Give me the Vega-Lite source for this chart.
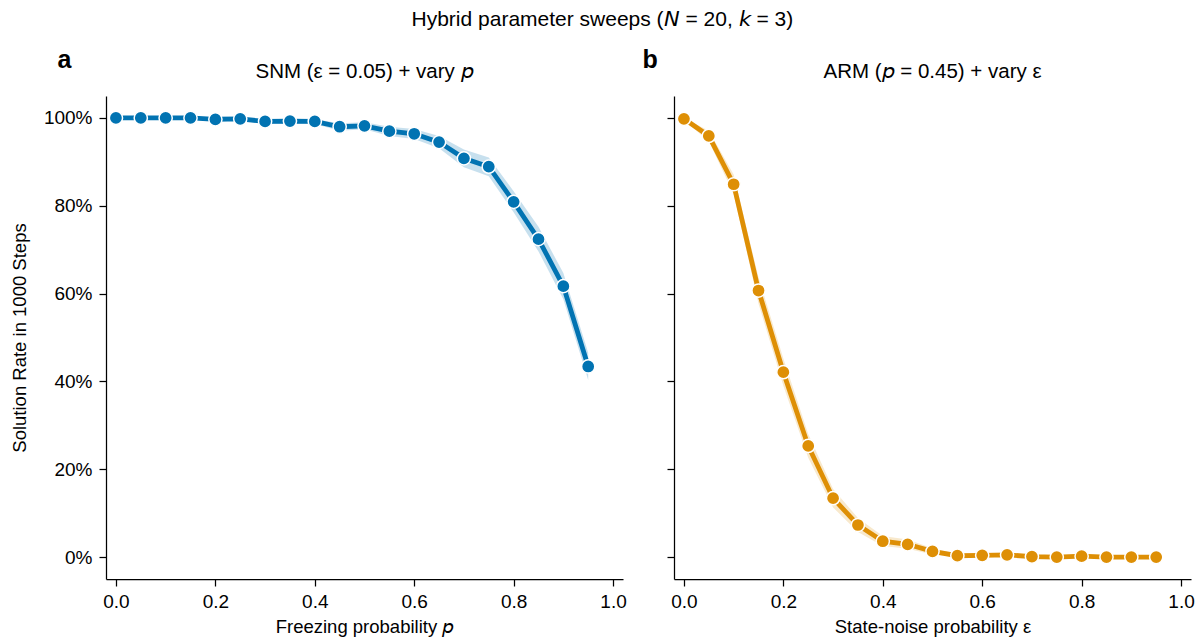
{
  "$schema": "https://vega.github.io/schema/vega-lite/v6.json",
  "padding": {"left": 10, "top": 8, "right": 10, "bottom": 2},
  "datasets": {
    "snm": [
      {"p": 0.00, "rate": 1.000, "lo": 1.000, "hi": 1.000},
      {"p": 0.05, "rate": 1.000, "lo": 0.999, "hi": 1.000},
      {"p": 0.10, "rate": 1.000, "lo": 0.999, "hi": 1.000},
      {"p": 0.15, "rate": 1.000, "lo": 0.999, "hi": 1.000},
      {"p": 0.20, "rate": 0.997, "lo": 0.993, "hi": 1.000},
      {"p": 0.25, "rate": 0.998, "lo": 0.995, "hi": 1.000},
      {"p": 0.30, "rate": 0.992, "lo": 0.986, "hi": 0.997},
      {"p": 0.35, "rate": 0.993, "lo": 0.987, "hi": 0.998},
      {"p": 0.40, "rate": 0.992, "lo": 0.986, "hi": 0.997},
      {"p": 0.45, "rate": 0.980, "lo": 0.971, "hi": 0.988},
      {"p": 0.50, "rate": 0.982, "lo": 0.974, "hi": 0.990},
      {"p": 0.55, "rate": 0.970, "lo": 0.959, "hi": 0.980},
      {"p": 0.60, "rate": 0.964, "lo": 0.952, "hi": 0.975},
      {"p": 0.65, "rate": 0.945, "lo": 0.931, "hi": 0.959},
      {"p": 0.70, "rate": 0.908, "lo": 0.888, "hi": 0.928},
      {"p": 0.75, "rate": 0.889, "lo": 0.867, "hi": 0.910},
      {"p": 0.80, "rate": 0.809, "lo": 0.785, "hi": 0.833},
      {"p": 0.85, "rate": 0.724, "lo": 0.696, "hi": 0.752},
      {"p": 0.90, "rate": 0.617, "lo": 0.587, "hi": 0.647},
      {"p": 0.95, "rate": 0.434, "lo": 0.403, "hi": 0.465}
    ],
    "arm": [
      {"eps": 0.00, "rate": 0.998, "lo": 0.995, "hi": 1.000},
      {"eps": 0.05, "rate": 0.959, "lo": 0.947, "hi": 0.971},
      {"eps": 0.10, "rate": 0.849, "lo": 0.827, "hi": 0.871},
      {"eps": 0.15, "rate": 0.607, "lo": 0.577, "hi": 0.637},
      {"eps": 0.20, "rate": 0.421, "lo": 0.390, "hi": 0.452},
      {"eps": 0.25, "rate": 0.253, "lo": 0.226, "hi": 0.280},
      {"eps": 0.30, "rate": 0.134, "lo": 0.113, "hi": 0.155},
      {"eps": 0.35, "rate": 0.073, "lo": 0.057, "hi": 0.089},
      {"eps": 0.40, "rate": 0.036, "lo": 0.025, "hi": 0.048},
      {"eps": 0.45, "rate": 0.029, "lo": 0.019, "hi": 0.040},
      {"eps": 0.50, "rate": 0.013, "lo": 0.006, "hi": 0.020},
      {"eps": 0.55, "rate": 0.003, "lo": 0.000, "hi": 0.007},
      {"eps": 0.60, "rate": 0.004, "lo": 0.000, "hi": 0.008},
      {"eps": 0.65, "rate": 0.005, "lo": 0.001, "hi": 0.009},
      {"eps": 0.70, "rate": 0.001, "lo": 0.000, "hi": 0.003},
      {"eps": 0.75, "rate": 0.000, "lo": 0.000, "hi": 0.000},
      {"eps": 0.80, "rate": 0.002, "lo": 0.000, "hi": 0.005},
      {"eps": 0.85, "rate": 0.000, "lo": 0.000, "hi": 0.000},
      {"eps": 0.90, "rate": 0.000, "lo": 0.000, "hi": 0.000},
      {"eps": 0.95, "rate": 0.000, "lo": 0.000, "hi": 0.000}
    ]
  },
  "title": {
    "text": "Hybrid parameter sweeps (𝘕 = 20, 𝘬 = 3)",
    "fontSize": 21,
    "fontWeight": "normal",
    "anchor": "middle",
    "offset": 18
  },
  "spacing": 15,
  "hconcat": [
    {
      "title": {"text": "a", "anchor": "start", "frame": "bounds", "fontSize": 25, "fontWeight": "bold", "dx": 47, "offset": -11},
      "hconcat": [
        {
          "title": {"text": "SNM (ε = 0.05) + vary 𝘱", "fontSize": 20.5, "fontWeight": "normal", "offset": 14},
          "width": 517,
          "height": 483,
          "data": {"name": "snm"},
          "layer": [
            {
              "mark": {"type": "area", "color": "#0173B2", "opacity": 0.22},
              "encoding": {
                "x": {
                  "field": "p", "type": "quantitative",
                  "scale": {"domain": [-0.02, 1.02], "nice": false, "zero": false},
                  "axis": {"values": [0, 0.2, 0.4, 0.6, 0.8, 1.0], "format": ".1f", "title": "Freezing probability 𝘱", "labelFlush": false}
                },
                "y": {
                  "field": "lo", "type": "quantitative",
                  "scale": {"domain": [-0.05, 1.05], "nice": false, "zero": false},
                  "axis": {"values": [0, 0.2, 0.4, 0.6, 0.8, 1.0], "format": ".0%", "title": "Solution Rate in 1000 Steps"}
                },
                "y2": {"field": "hi"}
              }
            },
            {
              "mark": {"type": "line", "color": "#0173B2", "strokeWidth": 4.8},
              "encoding": {
                "x": {"field": "p", "type": "quantitative"},
                "y": {"field": "rate", "type": "quantitative", "title": "Solution Rate in 1000 Steps"}
              }
            },
            {
              "mark": {"type": "point", "filled": true, "shape": "circle", "size": 175, "color": "#0173B2", "opacity": 1, "stroke": "white", "strokeWidth": 1.5},
              "encoding": {
                "x": {"field": "p", "type": "quantitative"},
                "y": {"field": "rate", "type": "quantitative", "title": "Solution Rate in 1000 Steps"}
              }
            }
          ]
        }
      ]
    },
    {
      "title": {"text": "b", "anchor": "start", "frame": "bounds", "fontSize": 25, "fontWeight": "bold", "dx": -24, "offset": -11},
      "hconcat": [
        {
          "title": {"text": "ARM (𝘱 = 0.45) + vary ε", "fontSize": 20.5, "fontWeight": "normal", "offset": 14},
          "width": 517,
          "height": 483,
          "data": {"name": "arm"},
          "layer": [
            {
              "mark": {"type": "area", "color": "#DE8F05", "opacity": 0.2},
              "encoding": {
                "x": {
                  "field": "eps", "type": "quantitative",
                  "scale": {"domain": [-0.02, 1.02], "nice": false, "zero": false},
                  "axis": {"values": [0, 0.2, 0.4, 0.6, 0.8, 1.0], "format": ".1f", "title": "State-noise probability ε", "labelFlush": false}
                },
                "y": {
                  "field": "lo", "type": "quantitative",
                  "scale": {"domain": [-0.05, 1.05], "nice": false, "zero": false},
                  "axis": {"values": [0, 0.2, 0.4, 0.6, 0.8, 1.0], "labels": false, "title": null}
                },
                "y2": {"field": "hi"}
              }
            },
            {
              "mark": {"type": "line", "color": "#DE8F05", "strokeWidth": 4.8},
              "encoding": {
                "x": {"field": "eps", "type": "quantitative"},
                "y": {"field": "rate", "type": "quantitative", "title": null}
              }
            },
            {
              "mark": {"type": "point", "filled": true, "shape": "circle", "size": 175, "color": "#DE8F05", "opacity": 1, "stroke": "white", "strokeWidth": 1.5},
              "encoding": {
                "x": {"field": "eps", "type": "quantitative"},
                "y": {"field": "rate", "type": "quantitative", "title": null}
              }
            }
          ]
        }
      ]
    }
  ],
  "config": {
    "font": "Liberation Sans",
    "view": {"stroke": null},
    "axis": {
      "grid": false,
      "domainColor": "#000000",
      "domainWidth": 1.25,
      "tickColor": "#000000",
      "tickWidth": 1.25,
      "tickSize": 7,
      "labelFontSize": 19,
      "labelColor": "#000000",
      "labelPadding": 7,
      "titleFontSize": 18.5,
      "titleFontWeight": "normal",
      "titleColor": "#000000"
    },
    "axisY": {"titlePadding": 14},
    "axisX": {"titlePadding": 6, "labelPadding": 6},
    "title": {"color": "#000000"}
  }
}
